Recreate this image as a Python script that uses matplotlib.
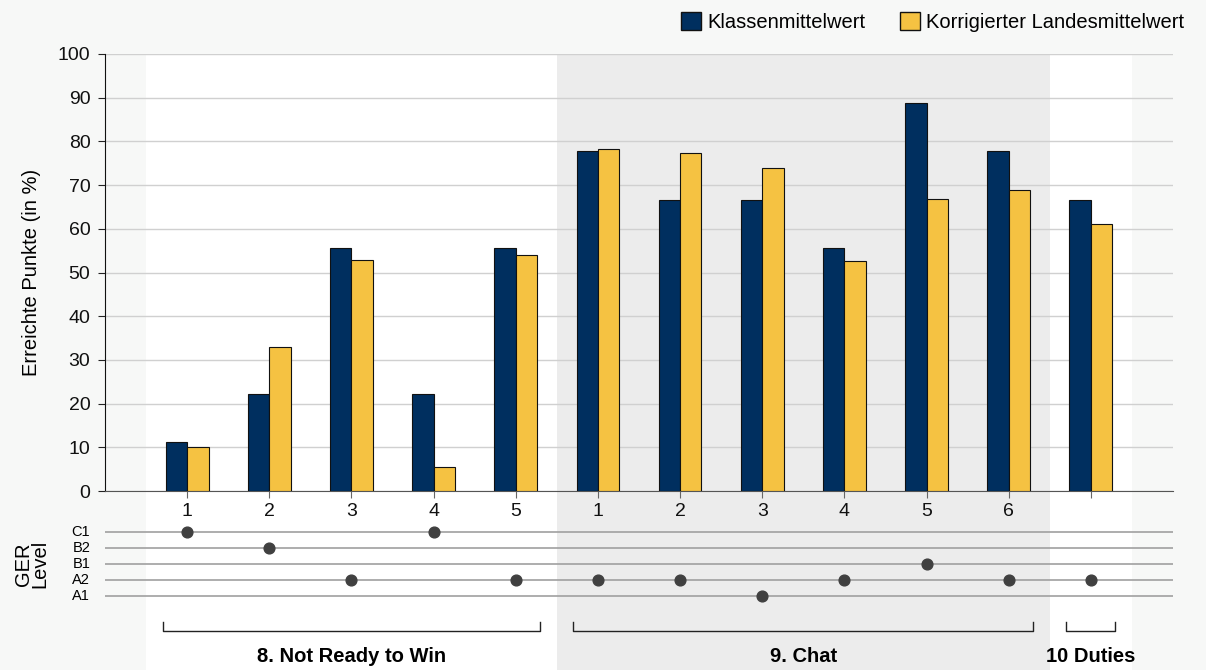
import numpy as np
import matplotlib
matplotlib.use('Agg')
import matplotlib.pyplot as plt
from matplotlib.patches import Patch

plt.rcParams['font.family'] = ['Liberation Sans', 'DejaVu Sans']

# data
tasks = ['1', '2', '3', '4', '5', '1', '2', '3', '4', '5', '6', '']
klasse = [11.1, 22.2, 55.6, 22.2, 55.6, 77.8, 66.7, 66.7, 55.6, 88.9, 77.8, 66.7]
land = [10.1, 33.0, 52.9, 5.4, 54.1, 78.2, 77.4, 73.9, 52.6, 66.8, 68.9, 61.1]
levels = ['A1', 'A2', 'B1', 'B2', 'C1']
task_level = ['C1', 'B2', 'A2', 'C1', 'A2', 'A2', 'A2', 'A1', 'A2', 'B1', 'A2', 'A2']
groups = ['8. Not Ready to Win', '9. Chat', '10 Duties']
group_sizes = [5, 6, 1]

navy = '#002f5f'
yellow = '#f5c242'
bg = '#f7f8f7'
band_colors = ['white', '#ececec', 'white']

fig = plt.figure(figsize=(12.06, 6.70), dpi=100)
fig.patch.set_facecolor(bg)

ax = fig.add_axes([105/1206, 1 - 491/670, 1068/1206, 437/670])
ax2 = fig.add_axes([105/1206, 0, 1068/1206, 179/670], sharex=ax)
ax.set_zorder(2)
ax2.set_zorder(1)
for a in (ax, ax2):
    a.set_facecolor('none')

x = np.arange(1, len(klasse) + 1)
w = 0.26

# group bands
start = 0.5
for size, col in zip(group_sizes, band_colors):
    ax.axvspan(start, start + size, color=col, zorder=0, lw=0)
    ax2.axvspan(start, start + size, color=col, zorder=0, lw=0)
    start += size

ax.bar(x - w/2, klasse, w, color=navy, edgecolor='#111111', lw=0.8, zorder=3)
ax.bar(x + w/2, land, w, color=yellow, edgecolor='#111111', lw=0.8, zorder=3)

ax.set_xlim(0, 13)
ax.set_ylim(0, 100)
ax.set_yticks(range(0, 101, 10))
ax.yaxis.grid(True, color='#d0d0d0', lw=1)
ax.set_axisbelow(True)
ax.set_xticks(x)
ax.set_xticklabels(tasks)
ax.tick_params(axis='both', labelsize=14, colors='#111111')
ax.tick_params(axis='x', length=5, color='#666666', pad=4)
ax.tick_params(axis='y', length=5, color='#222222', pad=5.5)
for s in ['top', 'right']:
    ax.spines[s].set_visible(False)
ax.spines['bottom'].set_color('#555555')
ax.spines['left'].set_color('#111111')
ax.set_ylabel('Erreichte Punkte (in %)', fontsize=14.5, labelpad=12)

# GER level strip
ax2.set_ylim(-4.625, 6.5625)
ax2.axis('off')
for i, lv in enumerate(levels):
    ax2.axhline(i, color='#a0a0a0', lw=1.2, zorder=1)
    ax2.text(-0.18, i, lv, ha='right', va='center', fontsize=10.5)
ax2.scatter(x, [levels.index(l) for l in task_level], s=60, color='#404040', zorder=3)
ax2.text(-0.89, 2, 'GER\nLevel', rotation=90, ha='center', va='center',
         fontsize=14.5, linespacing=0.85)

# group brackets
start = 1
for name, size in zip(groups, group_sizes):
    x0, x1 = start - 0.3, start + size - 1 + 0.3
    ax2.plot([x0, x0, x1, x1], [-1.625, -2.1875, -2.1875, -1.625],
             color='#222222', lw=1)
    ax2.text((x0 + x1) / 2, -3.75, name, ha='center', va='center',
             fontsize=14.5, fontweight='bold')
    start += size

handles = [Patch(facecolor=navy, edgecolor='#111111', label='Klassenmittelwert'),
           Patch(facecolor=yellow, edgecolor='#111111', label='Korrigierter Landesmittelwert')]
fig.legend(handles=handles, loc='upper right', bbox_to_anchor=(1196/1206, 1.0),
           ncol=2, frameon=False, fontsize=14.5, handlelength=1.0, handleheight=1.0,
           columnspacing=1.7, handletextpad=0.3, borderaxespad=0.2)

plt.savefig('out.png', dpi=100, facecolor=bg)
